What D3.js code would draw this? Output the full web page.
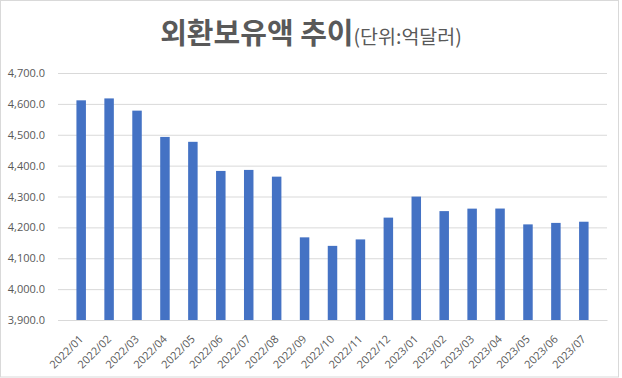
<!DOCTYPE html>
<html>
<head>
<meta charset="utf-8">
<script src="https://cdn.jsdelivr.net/npm/d3@7"></script>
<style>
  body { margin: 0; background: #fff; }
  svg { display: block; }
</style>
</head>
<body>
<div id="chart"></div>
<script>
// 월별 외환보유액 (억달러)
const months = [
    "2022/01", "2022/02", "2022/03", "2022/04", "2022/05", "2022/06", "2022/07",
    "2022/08", "2022/09", "2022/10", "2022/11", "2022/12", "2023/01", "2023/02",
    "2023/03", "2023/04", "2023/05", "2023/06", "2023/07"
];
const reserves = [
    4611.5, 4617.7, 4578.1, 4493.0, 4477.1, 4382.8, 4386.1,
    4364.3, 4167.7, 4140.1, 4161.0, 4231.6, 4299.7, 4252.7,
    4260.7, 4261.0, 4209.7, 4214.5, 4218.3
];
const yTicks = [3900, 4000, 4100, 4200, 4300, 4400, 4500, 4600, 4700];

const width = 622, height = 378;
const margin = { top: 73, right: 15, bottom: 58, left: 58 };
const plotW = width - margin.left - margin.right;
const plotH = height - margin.top - margin.bottom;

const data = months.map((m, i) => ({ month: m, value: reserves[i] }));

const svg = d3.select("#chart").append("svg")
    .attr("width", width)
    .attr("height", height);

// chart border
svg.append("rect")
    .attr("x", 0.5).attr("y", 0.5)
    .attr("width", width - 4).attr("height", height - 1.5)
    .attr("fill", "#fff")
    .attr("stroke", "#d9d9d9");

// Title
const title = svg.append("text")
    .attr("x", 311)
    .attr("y", 44)
    .attr("text-anchor", "middle")
    .style("font-family", "'Noto Sans CJK KR', sans-serif")
    .style("fill", "#595959");
title.append("tspan")
    .style("font-size", "29px")
    .style("font-weight", "bold")
    .text("외환보유액 추이");
title.append("tspan")
    .style("font-size", "19.5px")
    .text("(단위:억달러)");

const g = svg.append("g")
    .attr("transform", `translate(${margin.left},${margin.top})`);

const x = d3.scaleBand()
    .domain(months)
    .range([0, plotW])
    .padding(0.66);

const y = d3.scaleLinear()
    .domain([3900, 4700])
    .range([plotH, 0]);

// grid lines
g.append("g")
    .call(d3.axisLeft(y).tickValues(yTicks).tickSize(-plotW).tickFormat(""))
    .call(s => s.select(".domain").remove())
    .selectAll("line")
    .attr("stroke", "#d9d9d9");

// Y axis labels
g.append("g")
    .call(d3.axisLeft(y).tickValues(yTicks).tickSize(0).tickPadding(13)
        .tickFormat(d => d3.format(",.1f")(d)))
    .call(s => s.select(".domain").remove())
    .selectAll("text")
    .style("font-family", "'Open Sans', sans-serif")
    .style("font-size", "11px")
    .style("fill", "#595959");

// bars
g.selectAll(".bar")
    .data(data)
    .enter()
    .append("rect")
    .attr("class", "bar")
    .attr("x", d => x(d.month))
    .attr("y", d => y(d.value))
    .attr("width", x.bandwidth())
    .attr("height", d => plotH - y(d.value))
    .attr("fill", "#4472c4");

// X axis
const xAxis = g.append("g")
    .attr("transform", `translate(0,${plotH})`)
    .call(d3.axisBottom(x).tickSize(0));
xAxis.select(".domain").attr("stroke", "#d9d9d9");
xAxis.selectAll("text")
    .style("font-family", "'Open Sans', sans-serif")
    .style("font-size", "11px")
    .style("fill", "#595959")
    .attr("text-anchor", "end")
    .attr("x", 0)
    .attr("y", 0)
    .attr("dy", "0.35em")
    .attr("transform", "translate(0,17) rotate(-45)");
</script>
</body>
</html>
